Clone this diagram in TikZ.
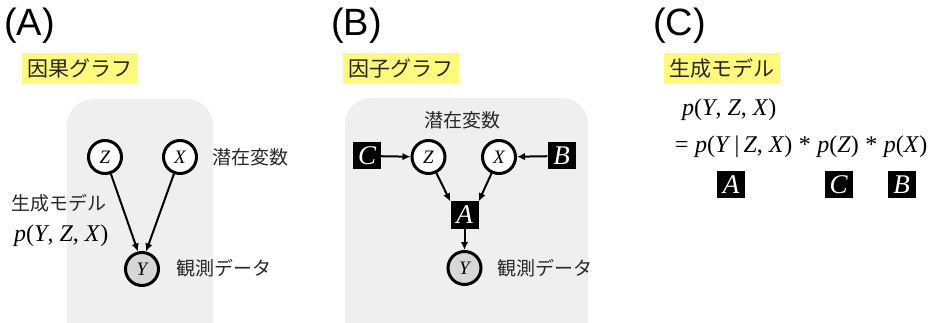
\documentclass[tikz,border=0pt]{standalone}
\usepackage{fontspec}
\setmainfont{Liberation Sans}
\newfontfamily\tm{Liberation Serif}
\newfontfamily\jp{Noto Sans CJK JP}
\usetikzlibrary{arrows.meta}
\newcommand\mv[1]{\textit{#1}}
\newcommand\opsp{\hspace{6.5pt}}
\definecolor{panelgray}{RGB}{239,239,239}
\definecolor{hl}{RGB}{255,250,125}
\definecolor{circgray}{RGB}{215,215,215}
\definecolor{txtgray}{RGB}{40,40,40}
\begin{document}
\begin{tikzpicture}[x=1pt,y=-1pt,
  hlbox/.style={fill=hl,draw=none,minimum width=116pt,minimum height=31pt,inner sep=0pt},
  jplab/.style={font=\jp\fontsize{19}{19}\selectfont,text=txtgray,inner sep=0pt},
  headlab/.style={font=\fontsize{38}{38}\selectfont,inner sep=0pt},
  var/.style={circle,draw=black,line width=3pt,fill=white,minimum size=33pt,inner sep=0pt,font=\tm\itshape\fontsize{19}{19}\selectfont},
  obs/.style={var,fill=circgray},
  fac/.style={fill=black,text=white,minimum width=28pt,minimum height=27pt,inner sep=0pt,font=\tm\itshape\fontsize{27}{27}\selectfont},
  eq/.style={font=\tm\fontsize{24}{24}\selectfont,inner sep=0pt},
  arr/.style={-{Latex[length=8pt,width=7.5pt]},line width=2pt},
]
\useasboundingbox (0,0) rectangle (931,323);
\clip (0,0) rectangle (931,323);
% ---------- panel A ----------
\node[headlab,anchor=west] (hA) at (4,26) {(A)};
\node[hlbox,anchor=north west] (hlA) at (22,53) {};
\node[jplab,font=\jp\fontsize{21}{21}\selectfont] (tA) at (hlA.center) {因果グラフ};
\fill[panelgray,rounded corners=26pt] (67,99) rectangle (213,360);
\node[var] (Za) at (105,157) {Z};
\node[var] (Xa) at (180,157) {X};
\node[obs] (Ya) at (142,269) {Y};
\draw[arr] (Za) -- (Ya.103);
\draw[arr] (Xa) -- (Ya.77);
\node[jplab,anchor=west] (lvA) at (212,157) {潜在変数};
\node[jplab,anchor=west] (gmA) at (11,203) {生成モデル};
\node[eq,anchor=west] (pA) at (14,236) {\mv{p}(\mv{Y}, \mv{Z}, \mv{X})};
\node[jplab,anchor=west] (obA) at (176,268) {観測データ};
% ---------- panel B ----------
\node[headlab,anchor=west] (hB) at (331,26) {(B)};
\node[hlbox,anchor=north west] (hlB) at (343,53) {};
\node[jplab,font=\jp\fontsize{21}{21}\selectfont] (tB) at (hlB.center) {因子グラフ};
\fill[panelgray,rounded corners=26pt] (345,98) rectangle (588,360);
\node[jplab] (lvB) at (462,120) {潜在変数};
\node[fac] (Cb) at (367,156) {C};
\node[var] (Zb) at (428.5,157) {Z};
\node[var] (Xb) at (499,157) {X};
\node[fac] (Bb) at (561.5,156) {B};
\node[fac] (Ab) at (464.5,215) {A};
\node[obs] (Yb) at (464.5,268) {Y};
\draw[arr] (Cb) -- (Zb);
\draw[arr] (Bb) -- (Xb);
\draw[arr] (Zb) -- (Ab.north west);
\draw[arr] (Xb) -- (Ab.north east);
\draw[arr] (Ab) -- (Yb);
\node[jplab,anchor=west] (obB) at (497,268) {観測データ};
% ---------- panel C ----------
\node[headlab,anchor=west] (hC) at (653,26) {(C)};
\node[hlbox,anchor=north west] (hlC) at (664,53) {};
\node[jplab,font=\jp\fontsize{21}{21}\selectfont] (tC) at (hlC.center) {生成モデル};
\node[eq,anchor=west] (pC1) at (682,110) {\mv{p}(\mv{Y}, \mv{Z}, \mv{X})};
\node[eq,anchor=west] (pC2) at (675,147) {=\opsp\mv{p}(\mv{Y}\,|\,\mv{Z}, \mv{X})\opsp*\opsp\mv{p}(\mv{Z})\opsp*\opsp\mv{p}(\mv{X})};
\node[fac] (Ac) at (731,185) {A};
\node[fac] (Cc) at (838.5,185) {C};
\node[fac] (Bc) at (901.5,185) {B};
\end{tikzpicture}
\end{document}
